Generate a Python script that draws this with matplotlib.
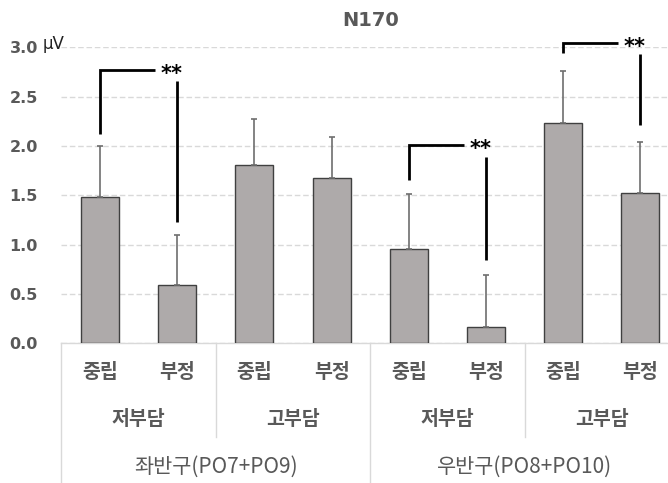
import matplotlib
matplotlib.use("Agg")
import matplotlib.pyplot as plt
from matplotlib.transforms import blended_transform_factory

plt.rcParams['font.family'] = ['Noto Sans CJK KR', 'DejaVu Sans']

# ---- data ----
conditions = ["중립", "부정", "중립", "부정", "중립", "부정", "중립", "부정"]
burden = ["저부담", "고부담", "저부담", "고부담"]
hemis = ["좌반구(PO7+PO9)", "우반구(PO8+PO10)"]
means = [1.48, 0.59, 1.81, 1.68, 0.96, 0.17, 2.235, 1.52]
errors = [0.52, 0.51, 0.46, 0.41, 0.55, 0.52, 0.525, 0.52]
yticks = [0.0, 0.5, 1.0, 1.5, 2.0, 2.5, 3.0]
ytick_labels = ["0.0", "0.5", "1.0", "1.5", "2.0", "2.5", "3.0"]

# significance brackets: (left bar, right bar, left low y, top y, right top y, right bottom y)
sig_left = [0, 4, 6]
sig_right = [1, 5, 7]
sig_left_low = [2.12, 1.655, 2.94]
sig_top = [2.77, 2.01, 3.04]
sig_right_top = [2.66, 1.885, 2.93]
sig_right_low = [1.23, 0.84, 2.21]
sig_text = ["**", "**", "**"]

TEXT = "#595959"
GRID = "#D9D9D9"

fig = plt.figure(figsize=(6.68, 4.83), dpi=100)
ax = fig.add_axes([61.4 / 668, 139.7 / 483, 617.6 / 668, 296 / 483])

x = list(range(len(means)))
ax.bar(x, means, width=0.49, color="#AEAAAA", edgecolor="#404040", linewidth=1.0, zorder=3)
ax.errorbar(x, means, yerr=[[0] * len(errors), errors], fmt="none", ecolor="#6E6E6E",
            elinewidth=1.2, capsize=2.5, capthick=1.2, zorder=4)

ax.set_xlim(-0.5, 7.5)
ax.set_ylim(0, 3.0)
ax.set_yticks(yticks)
ax.set_yticklabels(ytick_labels, fontsize=11.5, fontweight="bold", color=TEXT, family="DejaVu Sans")
ax.tick_params(axis="y", length=0, pad=17)
ax.set_xticks([])
for s in ["top", "right", "left"]:
    ax.spines[s].set_visible(False)
ax.spines["bottom"].set_color(GRID)
ax.spines["bottom"].set_linewidth(1.0)
ax.set_axisbelow(True)
ax.yaxis.grid(True, color=GRID, linestyle=(0, (4, 2)), linewidth=1.0)

ax.text(-0.74, 2.985, "μV", fontsize=12, color="#222222", ha="left", va="baseline",
        transform=ax.transData, clip_on=False, family="DejaVu Sans")

ax.set_title("N170", fontsize=14, fontweight="bold", color=TEXT, pad=15, family="DejaVu Sans")

# significance brackets
for l, r, ll, t, rt, rl, s in zip(sig_left, sig_right, sig_left_low, sig_top, sig_right_top, sig_right_low, sig_text):
    ax.plot([l, l, l + 0.71], [ll, t, t], color="black", lw=2.0, solid_capstyle="butt",
            solid_joinstyle="miter", clip_on=False, zorder=5)
    ax.plot([r, r], [rt, rl], color="black", lw=2.0, solid_capstyle="butt", clip_on=False, zorder=5)
    ax.text(l + 0.93, t - 0.04, s, fontsize=15, fontweight="bold", color="black", ha="center",
            va="center", clip_on=False, zorder=5, family="DejaVu Sans")

# multi-level category axis
tr = blended_transform_factory(ax.transData, ax.transAxes)
y1, y2, y3 = -0.100, -0.259, -0.418
for i, c in enumerate(conditions):
    ax.text(i, y1, c, transform=tr, ha="center", va="center", fontsize=14,
            fontweight="bold", color=TEXT)
for j, b in enumerate(burden):
    ax.text(2 * j + 0.5, y2, b, transform=tr, ha="center", va="center", fontsize=14,
            fontweight="bold", color=TEXT)
for k, h in enumerate(hemis):
    ax.text(4 * k + 1.5, y3, h, transform=tr, ha="center", va="center", fontsize=15,
            color=TEXT)
for xs in [-0.5, 3.5, 7.5]:
    ax.plot([xs, xs], [0, -0.48], transform=tr, color=GRID, lw=1.0, clip_on=False)
for xs in [1.5, 5.5]:
    ax.plot([xs, xs], [0, -0.3155], transform=tr, color=GRID, lw=1.0, clip_on=False)

fig.savefig("out.png", dpi=100)
